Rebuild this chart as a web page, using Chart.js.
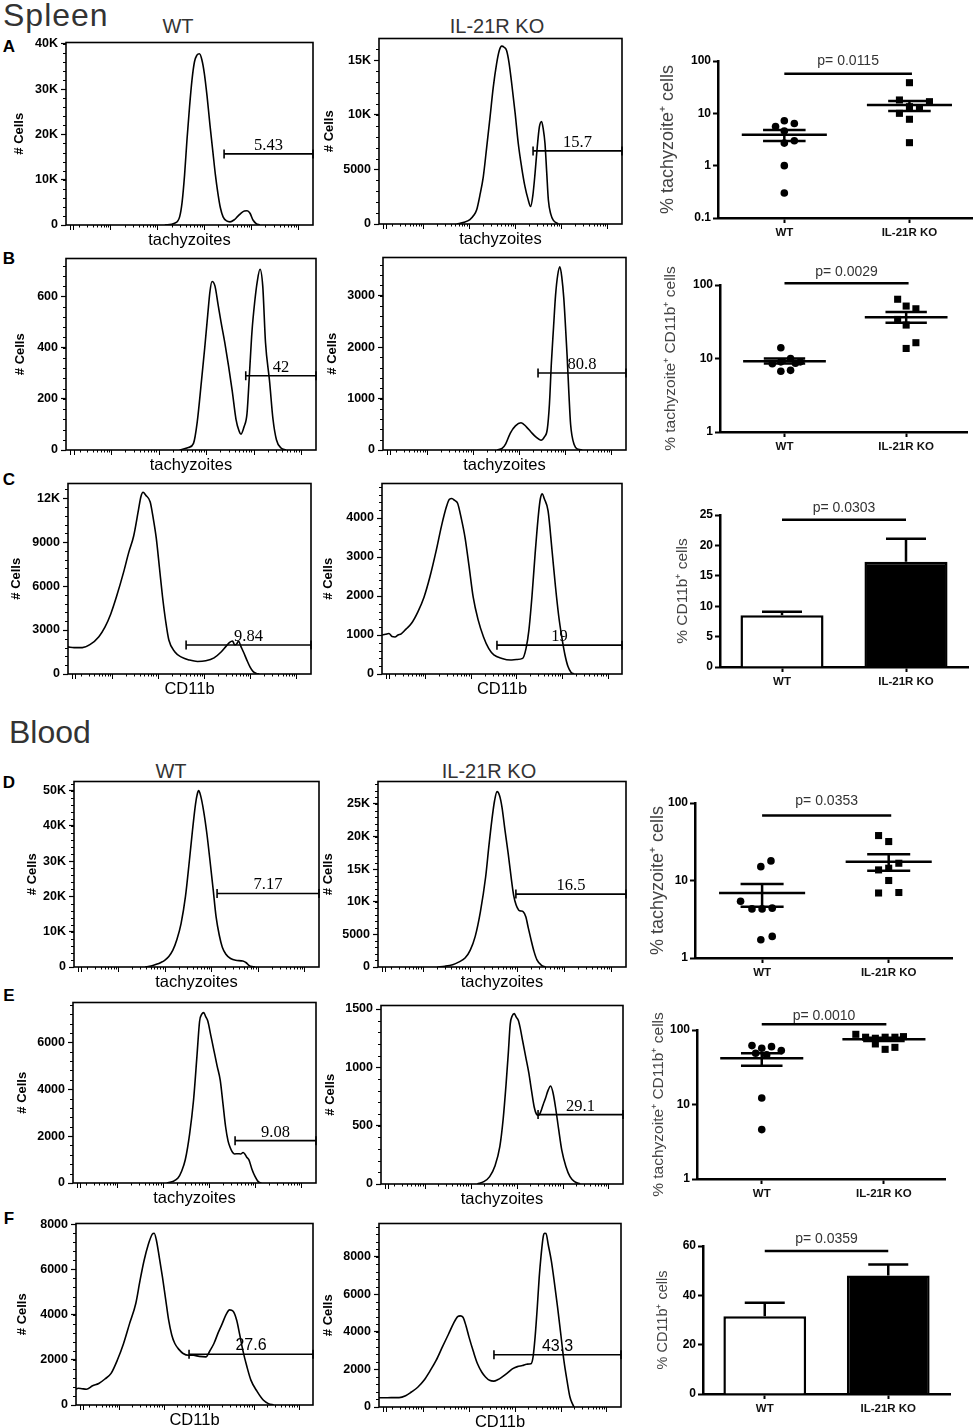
<!DOCTYPE html>
<html>
<head>
<meta charset="utf-8">
<title>Tachyzoite burden, WT vs IL-21R KO</title>
<script src="https://cdn.jsdelivr.net/npm/chart.js@4.4.1/dist/chart.umd.min.js"></script>
<style>
  body { margin: 0; background: #fff; }
  #fig { position: relative; width: 976px; height: 1428px; overflow: hidden; font-family: "Liberation Sans", Arial, sans-serif; }
  #fig canvas { position: absolute; }
  .lbl { position: absolute; white-space: nowrap; line-height: 1; color: #333; }
</style>
</head>
<body>
<div id="fig"></div>
<script>
const groups = ['WT', 'IL-21R KO'];
const histMarkers = ['tachyzoites', 'tachyzoites', 'tachyzoites', 'tachyzoites', 'CD11b', 'CD11b',
                     'tachyzoites', 'tachyzoites', 'tachyzoites', 'tachyzoites', 'CD11b', 'CD11b'];

// FlowJo histograms: x = display channel (0-1000 across the log axis), y = # cells
const aWtCh = [400, 440, 460, 470, 480, 490, 500, 510, 520, 530, 540, 550, 560, 571, 583, 595, 605, 615, 625, 636, 650, 664, 680, 695, 710, 722, 733, 745, 757, 770, 785];
const aWtCells = [0, 400, 1800, 5000, 11000, 19000, 26000, 32000, 36000, 37500, 37800, 36500, 33500, 28500, 22000, 16000, 11000, 7000, 3800, 1800, 900, 700, 1100, 1900, 2700, 3100, 3150, 2600, 1100, 300, 0];
const aKoCh = [320, 350, 374, 390, 402, 415, 429, 443, 457, 470, 484, 495, 505, 515, 525, 535, 546, 560, 573, 587, 601, 613, 624, 633, 642, 651, 660, 669, 676, 683, 690, 697, 707, 717, 738];
const aKoCells = [0, 150, 400, 800, 1300, 2600, 4300, 7000, 9800, 12500, 14700, 15900, 16300, 16200, 15900, 14800, 12900, 10200, 7400, 5200, 3400, 2300, 1600, 2600, 4600, 7000, 8900, 9400, 8700, 7400, 4800, 2200, 900, 350, 0];
const bWtCh = [455, 490, 510, 525, 542, 555, 567, 576, 584, 596, 608, 620, 635, 650, 665, 680, 692, 700, 712, 724, 734, 744, 755, 765, 776, 787, 798, 814, 828, 842, 860, 880];
const bWtCells = [0, 10, 26, 110, 271, 400, 529, 620, 658, 640, 570, 500, 420, 330, 230, 120, 75, 62, 90, 142, 300, 464, 580, 658, 706, 640, 420, 271, 120, 39, 8, 0];
const bKoCh = [470, 490, 505, 524, 545, 568, 590, 609, 630, 650, 665, 676, 685, 693, 702, 710, 719, 728, 736, 744, 751, 758, 765, 772, 787, 803, 820];
const bKoCells = [0, 30, 120, 330, 470, 530, 450, 350, 250, 190, 260, 400, 900, 1700, 2400, 3000, 3400, 3560, 3350, 2950, 2400, 1800, 1100, 500, 100, 15, 0];
const cWtCh = [0, 25, 59, 90, 127, 152, 176, 200, 228, 250, 270, 290, 300, 309, 320, 338, 350, 363, 376, 389, 402, 415, 440, 467, 500, 533, 567, 601, 630, 651, 665, 677, 686, 694, 702, 711, 722, 736, 750, 762, 775, 787];
const cWtCells = [1850, 1800, 1800, 2000, 2550, 3200, 4100, 5300, 6900, 8300, 9400, 11200, 12100, 12400, 12200, 11750, 10700, 9300, 7300, 5270, 3600, 2320, 1500, 1150, 950, 850, 900, 1100, 1500, 1900, 2150, 2250, 2000, 2050, 2250, 1900, 1500, 950, 450, 160, 40, 0];
const cKoCh = [0, 15, 29, 42, 54, 67, 80, 100, 123, 150, 175, 200, 226, 248, 269, 281, 291, 303, 315, 330, 346, 362, 380, 400, 423, 445, 466, 500, 535, 560, 586, 600, 612, 625, 638, 652, 660, 668, 676, 692, 708, 723, 736, 749, 762, 775, 788, 800];
const cKoCells = [1000, 1020, 1040, 960, 950, 1000, 1030, 1150, 1300, 1600, 1970, 2500, 3170, 3800, 4300, 4480, 4500, 4450, 4380, 4000, 3500, 2800, 1970, 1400, 950, 650, 490, 400, 360, 370, 400, 650, 1120, 2000, 3080, 4100, 4500, 4620, 4500, 4180, 3200, 2230, 1500, 950, 500, 190, 40, 0];
const dWtCh = [290, 315, 336, 355, 370, 387, 403, 420, 437, 455, 471, 484, 496, 503, 509, 516, 529, 542, 555, 568, 580, 593, 605, 620, 639, 660, 689, 703, 714, 727, 739];
const dWtCells = [0, 300, 750, 1300, 1900, 3000, 4700, 7800, 12300, 20000, 30200, 39000, 46200, 49000, 50000, 48800, 44300, 38000, 30200, 22000, 14200, 9000, 5700, 3600, 2400, 1900, 1700, 1200, 470, 100, 0];
const dKoCh = [240, 270, 301, 325, 351, 372, 392, 413, 434, 447, 459, 470, 480, 490, 500, 512, 525, 536, 547, 557, 567, 575, 585, 596, 606, 617, 629, 641, 658, 675];
const dKoCells = [0, 120, 360, 750, 1370, 2600, 4700, 8500, 13800, 18500, 22500, 25500, 26900, 26300, 24500, 21000, 17400, 14000, 11000, 9500, 8750, 8600, 8500, 7700, 6000, 4200, 2400, 1100, 300, 0];
const eWtCh = [386, 410, 432, 447, 462, 480, 496, 510, 521, 530, 538, 546, 555, 567, 580, 593, 606, 617, 628, 638, 648, 657, 665, 678, 690, 700, 707, 715, 724, 736, 749, 762, 775];
const eWtCells = [0, 60, 210, 500, 990, 2100, 3530, 5400, 6900, 7200, 7270, 7100, 6900, 6300, 5650, 5000, 4380, 3400, 2400, 1800, 1480, 1300, 1240, 1250, 1240, 1300, 1240, 1100, 990, 600, 280, 60, 0];
const eKoCh = [398, 425, 449, 470, 491, 505, 517, 526, 534, 542, 551, 559, 568, 576, 585, 598, 611, 622, 633, 642, 650, 656, 662, 670, 679, 690, 701, 711, 721, 734, 747, 764, 781, 800, 823];
const eKoCells = [0, 20, 63, 150, 320, 560, 860, 1120, 1370, 1440, 1460, 1430, 1400, 1330, 1230, 1090, 950, 800, 660, 600, 590, 600, 630, 680, 730, 800, 840, 780, 660, 470, 290, 150, 63, 20, 0];
const fWtCh = [0, 9, 25, 44, 70, 96, 122, 148, 175, 200, 226, 252, 270, 287, 305, 322, 330, 339, 352, 365, 378, 391, 404, 417, 435, 452, 475, 495, 520, 548, 565, 582, 600, 617, 633, 648, 663, 678, 691, 704, 721, 738, 764, 790, 812, 834];
const fWtCells = [700, 740, 720, 700, 850, 950, 1150, 1400, 2000, 2700, 3600, 4480, 5500, 6380, 7100, 7560, 7600, 7300, 6500, 5650, 4700, 3750, 3100, 2720, 2450, 2280, 2200, 2200, 2150, 2130, 2400, 2720, 3200, 3600, 4000, 4210, 4150, 3750, 3100, 2420, 1700, 1100, 600, 220, 60, 0];
const fKoCh = [0, 20, 50, 83, 110, 134, 160, 186, 210, 236, 262, 288, 308, 325, 336, 347, 360, 372, 390, 407, 425, 440, 457, 474, 490, 509, 530, 551, 572, 593, 610, 628, 637, 645, 654, 662, 670, 679, 685, 690, 700, 712, 725, 738, 751, 764, 777, 789, 800, 806];
const fKoCells = [500, 490, 500, 500, 600, 800, 1050, 1420, 1900, 2480, 3200, 3900, 4450, 4810, 4850, 4780, 4300, 3720, 2950, 2300, 1850, 1600, 1420, 1380, 1450, 1600, 1800, 2030, 2150, 2210, 2280, 2300, 2700, 3720, 5300, 6900, 8100, 9100, 9250, 9240, 8600, 7790, 6600, 5300, 3900, 2480, 1400, 530, 150, 0];

// gates (start channel, level in cells, % shown) and y ranges, order: A WT, A KO, B WT ... F KO
const gateFrom = [640, 634, 719, 638, 486, 479, 584, 556, 667, 649, 477, 475];
const gateLevel = [15700, 6700, 290, 1497, 1977, 740, 20850, 11180, 1807, 595, 2245, 2779];
const gateText = ['5.43', '15.7', '42', '80.8', '9.84', '19', '7.17', '16.5', '9.08', '29.1', '27.6', '43.3'];
const histYMax = [40300, 17000, 748, 3740, 13000, 4885, 52600, 28450, 7700, 1530, 8030, 9770];
const histYStep = [10000, 5000, 200, 1000, 3000, 1000, 10000, 5000, 2000, 500, 2000, 2000];

// FlowJo log axis marks (channel units)
const zeroMarks = [15, 30];
const decadeMarks = [180, 370, 560, 750, 940];

// dot plots: % per mouse, x = group position with jitter
const aWtPct = [7.2, 6.4, 5.6, 4.6, 3.0, 2.7, 1.0, 0.3];
const aWtPos = [1, 1.08, 0.93, 1, 1.08, 1, 1, 1];
const aKoPct = [38.5, 18, 16.7, 13.4, 12.8, 10, 7.7, 2.75];
const aKoPos = [2, 1.92, 2.16, 2, 2.08, 1.92, 2, 2];
const aMean = [3.9, 14.4], aSemLo = [2.96, 11.1], aSemHi = [4.8, 17.2];

const bWtPct = [14.0, 8.5, 9.0, 10.0, 9.0, 8.6, 6.7, 6.9];
const bWtPos = [0.97, 0.9, 0.97, 1.05, 1.13, 1.09, 0.97, 1.05];
const bKoPct = [64, 51.7, 47.5, 34, 28.5, 16.4, 13.7];
const bKoPos = [1.93, 2.0, 2.08, 1.93, 2.0, 2.08, 2.0];
const bMean = [9.2, 36.3], bSemLo = [8.55, 30.6], bSemHi = [10, 43];

const dWtPct = [17.9, 15.1, 5.4, 4.3, 4.3, 4.4, 1.9, 1.72];
const dWtPos = [1.07, 0.99, 0.83, 0.92, 1.0, 1.08, 1.08, 0.99];
const dKoPct = [38, 31.8, 16.7, 13.7, 14.4, 10, 6.9, 7.0];
const dKoPos = [1.92, 2.0, 2.08, 1.92, 2.0, 2.0, 1.92, 2.08];
const dMean = [6.9, 17.5], dSemLo = [4.6, 13.4], dSemHi = [9.0, 21.8];

const eWtPct = [61.7, 56.8, 59.8, 52.9, 48.7, 46.3, 12.2, 4.6];
const eWtPos = [0.92, 1.0, 1.08, 1.16, 0.95, 1.04, 1.0, 1.0];
const eKoPct = [87.5, 80, 77.5, 80, 80, 81.5, 65, 55, 58.5];
const eKoPos = [1.77, 1.85, 1.93, 2.01, 2.09, 2.16, 1.93, 2.01, 2.09];
const eMean = [41.7, 75], eSemLo = [33.2, 71], eSemHi = [48.7, 79];

// bar panels: mean and top of error bar
const cMean = [8.5, 17.3], cErrTop = [9.1, 21.1];
const fMean = [31.5, 48], fErrTop = [37, 52.5];

const logTicksA = [0.1, 1, 10, 100];
const logTicks = [1, 10, 100];
const pText = ['p= 0.0115', 'p= 0.0029', 'p= 0.0303', 'p= 0.0353', 'p= 0.0010', 'p= 0.0359'];
const pLevel = [57, 106, 24.2, 69, 119, 58];
const dotTitles = ['% tachyzoite\u207A cells', '% tachyzoite\u207A CD11b\u207A cells', '% CD11b\u207A cells',
                   '% tachyzoite\u207A cells', '% tachyzoite\u207A CD11b\u207A cells', '% CD11b\u207A cells'];

// ---------- layout (px in the 976x1428 page) ----------
const histBox = [[66, 42, 313, 225], [379, 38, 622, 224], [66, 258, 316, 450], [383, 257, 626, 450],
                 [68, 483, 311, 674], [382, 483, 622, 674], [74, 781, 319, 967], [378, 781, 626, 967],
                 [73, 1002, 316, 1183], [381, 1005, 623, 1184], [76, 1223, 313, 1405], [379, 1223, 621, 1407]];
const histTitleX = [20, 330, 21, 333, 17, 329, 33, 329, 23, 331, 23, 329];
const dotBox = [[718, 61, 972, 218], [720, 285, 967, 432], [720, 515, 968, 667],
                [695, 803, 952, 958], [697, 1030, 945, 1179], [703, 1246, 950, 1394]];
const dotTitleX = [668, 670, 682, 658, 658, 663];
const dotTitleSize = [18, 15.5, 15.5, 18, 15.5, 14.5];
const pGap = [13, 11, 12, 14, 8, 12];
const MEAN_W = 0.34, SEM_W = 0.17;

const SANS = '"Liberation Sans", Arial, sans-serif';
const SERIF = '"Liberation Serif", "Times New Roman", serif';
Chart.defaults.font.family = SANS;
Chart.defaults.color = '#000';

const fig = document.getElementById('fig');

function place(w, h, x, y) {
  const c = document.createElement('canvas');
  c.width = Math.round(w);
  c.height = Math.round(h);
  c.style.left = Math.round(x) + 'px';
  c.style.top = Math.round(y) + 'px';
  fig.appendChild(c);
  return c;
}

function text(str, x, y, css, centred = true) {
  const d = document.createElement('div');
  d.className = 'lbl';
  d.textContent = str;
  d.style.left = x + 'px';
  d.style.top = y + 'px';
  d.style.transform = centred ? 'translate(-50%, -50%)' : 'translate(0, -50%)';
  Object.assign(d.style, css);
  fig.appendChild(d);
}

// even ticks from 0 up to max (Chart.js would otherwise stretch the step to hit max)
function stepTicks(max, step) {
  return s => {
    const t = [];
    for (let v = 0; v <= max + 1e-9; v += step) t.push({ value: v });
    s.ticks = t;
  };
}

// ---------- plugins ----------
const boxFrame = {
  id: 'boxFrame',
  afterDatasetsDraw(chart) {
    const { ctx, chartArea: a } = chart;
    ctx.save();
    ctx.strokeStyle = '#000';
    ctx.lineWidth = 1.6;
    ctx.strokeRect(a.left, a.top, a.right - a.left, a.bottom - a.top);
    ctx.restore();
  }
};

const flowAxis = {
  id: 'flowAxis',
  afterDraw(chart, args, o) {
    const { ctx, chartArea: a, scales: { x, y } } = chart;
    ctx.save();
    ctx.strokeStyle = '#000';
    ctx.lineWidth = 1;
    ctx.beginPath();
    const minor = o.step / 5;
    for (let v = minor; v < y.max; v += minor) {
      const py = Math.round(y.getPixelForValue(v)) + 0.5;
      ctx.moveTo(a.left, py); ctx.lineTo(a.left - 3, py);
    }
    const mark = (v, len) => {
      const px = Math.round(x.getPixelForValue(v)) + 0.5;
      ctx.moveTo(px, a.bottom); ctx.lineTo(px, a.bottom + len);
    };
    zeroMarks.forEach(v => mark(v, 5));
    let prev = 0;
    decadeMarks.forEach(d => {
      for (let k = 2; k < 10; k++) mark(prev + Math.log10(k) * (d - prev), 2.5);
      mark(d, 5);
      prev = d;
    });
    ctx.stroke();
    ctx.restore();
  }
};

const gateLabel = {
  id: 'gateLabel',
  afterDraw(chart, args, o) {
    const { ctx, scales: { x, y } } = chart;
    ctx.save();
    ctx.font = o.font;
    ctx.fillStyle = '#000';
    ctx.textAlign = 'center';
    ctx.textBaseline = 'alphabetic';
    ctx.fillText(o.text, x.getPixelForValue((o.from + 1000) / 2), y.getPixelForValue(o.level) - 4);
    ctx.restore();
  }
};

const pValue = {
  id: 'pValue',
  afterDraw(chart, args, o) {
    const { ctx, scales: { x, y } } = chart;
    ctx.save();
    ctx.font = '14px ' + SANS;
    ctx.fillStyle = '#333';
    ctx.textAlign = 'center';
    ctx.textBaseline = 'middle';
    const px = (x.getPixelForValue(o.from) + x.getPixelForValue(o.to)) / 2;
    ctx.fillText(o.text, px, y.getPixelForValue(o.level) - o.gap);
    ctx.restore();
  }
};

const errorBars = {
  id: 'errorBars',
  afterDatasetsDraw(chart, args, o) {
    const { ctx, scales: { x, y } } = chart;
    ctx.save();
    ctx.strokeStyle = '#000';
    ctx.lineWidth = 2.5;
    ctx.beginPath();
    o.top.forEach((v, i) => {
      const px = x.getPixelForValue(i);
      const y0 = y.getPixelForValue(o.mean[i]);
      const y1 = y.getPixelForValue(v);
      ctx.moveTo(px, y0); ctx.lineTo(px, y1);
      ctx.moveTo(px - 20, y1); ctx.lineTo(px + 20, y1);
    });
    ctx.stroke();
    ctx.restore();
  }
};

// ---------- histograms ----------
const histCh = [aWtCh, aKoCh, bWtCh, bKoCh, cWtCh, cKoCh, dWtCh, dKoCh, eWtCh, eKoCh, fWtCh, fKoCh];
const histCells = [aWtCells, aKoCells, bWtCells, bKoCells, cWtCells, cKoCells, dWtCells, dKoCells, eWtCells, eKoCells, fWtCells, fKoCells];

function drawHistogram(i) {
  const [l, t, r, b] = histBox[i];
  const left = Math.round(histTitleX[i] - 8);
  const yw = l - left, pad = 10, xh = 25;
  const cv = place(r - left + pad, b - t + pad + xh, left, t - pad);
  new Chart(cv, {
    type: 'line',
    data: {
      datasets: [
        {
          data: histCh[i].map((c, k) => ({ x: c, y: histCells[i][k] })),
          borderColor: '#000', borderWidth: 1.6, pointRadius: 0, cubicInterpolationMode: 'monotone'
        },
        {
          data: [{ x: gateFrom[i], y: gateLevel[i] }, { x: 1000, y: gateLevel[i] }],
          borderColor: '#000', borderWidth: 1.6, pointStyle: 'line', rotation: 90, pointRadius: 4.5,
          pointBorderColor: '#000', pointBorderWidth: 1.6, clip: false
        }
      ]
    },
    options: {
      responsive: false, animation: false, events: [],
      layout: { padding: { top: pad, right: pad, left: 0, bottom: 0 } },
      plugins: {
        legend: { display: false }, tooltip: { enabled: false },
        flowAxis: { step: histYStep[i] },
        gateLabel: { text: gateText[i], from: gateFrom[i], level: gateLevel[i], font: (i >= 10 ? '16px ' + SANS : '16.5px ' + SERIF) }
      },
      scales: {
        x: {
          type: 'linear', min: 0, max: 1000,
          afterFit: s => { s.height = xh; },
          ticks: { display: false }, grid: { display: false }, border: { display: false },
          title: { display: true, text: histMarkers[i], color: '#000', padding: 0, font: { size: 16.5 } }
        },
        y: {
          min: 0, max: histYMax[i],
          afterFit: s => { s.width = yw; },
          afterBuildTicks: stepTicks(histYMax[i], histYStep[i]),
          ticks: {
            padding: 3, color: '#000',
            font: { size: 12.5, weight: 'bold' },
            callback: v => v >= 10000 ? Math.round(v / 1000) + 'K' : String(Math.round(v))
          },
          grid: { drawOnChartArea: false, tickLength: 5, tickWidth: 1.2, tickColor: '#000' },
          border: { display: false },
          title: { display: true, text: '# Cells', color: '#000', padding: 0, font: { size: 13, weight: 'bold' } }
        }
      }
    },
    plugins: [boxFrame, flowAxis, gateLabel]
  });
}

// ---------- dot plots and bars ----------
function frameFor(i) {
  const [l, t, r, b] = dotBox[i];
  const left = Math.round(dotTitleX[i] - dotTitleSize[i] * 0.6);
  const top = 26, xh = 26, rp = 8;
  return { cv: place(r - left + rp, b - t + top + xh, left, t - top), yw: l - left, top, xh, rp };
}

function axisY(i, yw, extra) {
  return Object.assign({
    afterFit: s => { s.width = yw; },
    ticks: { padding: 2, color: '#000', font: { size: 12, weight: 'bold' } },
    grid: { drawOnChartArea: false, tickLength: 5, tickWidth: 2, tickColor: '#000' },
    border: { display: true, width: 2.5, color: '#000' },
    title: { display: true, text: dotTitles[i], color: '#444', padding: 0, font: { size: dotTitleSize[i] } }
  }, extra);
}

function drawDots(i, wt, wtPos, ko, koPos, mean, lo, hi, range, decades) {
  const { cv, yw, top, xh, rp } = frameFor(i);
  const seg = (x0, x1, y0, y1) => ({
    data: [{ x: x0, y: y0 }, { x: x1, y: y1 }], showLine: true,
    borderColor: '#000', borderWidth: 2.5, pointRadius: 0
  });
  const sets = [];
  [0, 1].forEach(g => {
    const c = g + 1;
    sets.push(seg(c - MEAN_W, c + MEAN_W, mean[g], mean[g]));
    sets.push(seg(c - SEM_W, c + SEM_W, lo[g], lo[g]));
    sets.push(seg(c - SEM_W, c + SEM_W, hi[g], hi[g]));
    sets.push(seg(c, c, lo[g], hi[g]));
  });
  sets.push(Object.assign(seg(1, 2.02, pLevel[i], pLevel[i]), { clip: false }));
  sets.push({ data: wt.map((v, k) => ({ x: wtPos[k], y: v })), pointStyle: 'circle', pointRadius: 3.8, backgroundColor: '#000', borderColor: '#000', borderWidth: 0 });
  sets.push({ data: ko.map((v, k) => ({ x: koPos[k], y: v })), pointStyle: 'rect', pointRadius: 5, backgroundColor: '#000', borderColor: '#000', borderWidth: 0 });

  new Chart(cv, {
    type: 'scatter',
    data: { datasets: sets },
    options: {
      responsive: false, animation: false, events: [],
      layout: { padding: { top, right: rp, left: 0, bottom: 0 } },
      plugins: {
        legend: { display: false }, tooltip: { enabled: false },
        pValue: { text: pText[i], from: 1, to: 2.02, level: pLevel[i], gap: pGap[i] }
      },
      scales: {
        x: {
          type: 'linear', min: 0.47, max: 2.5,
          afterFit: s => { s.height = xh; },
          afterBuildTicks: s => { s.ticks = [{ value: 1 }, { value: 2 }]; },
          ticks: { callback: v => groups[v - 1], color: '#111', padding: 3, maxRotation: 0, autoSkip: false, font: { size: 11.5, weight: 'bold' } },
          grid: { drawOnChartArea: false, tickLength: 5, tickWidth: 2, tickColor: '#000' },
          border: { width: 2.5, color: '#000' }
        },
        y: axisY(i, yw, {
          type: 'logarithmic', min: range[0], max: range[1],
          afterBuildTicks: s => { s.ticks = decades.map(v => ({ value: v })); }
        })
      }
    },
    plugins: [pValue]
  });
}

function drawBars(i, mean, errTop, max, step) {
  const { cv, yw, top, xh, rp } = frameFor(i);
  const yax = axisY(i, yw, { min: 0, max, afterBuildTicks: stepTicks(max, step) });
  new Chart(cv, {
    type: 'bar',
    data: {
      labels: groups,
      datasets: [
        { data: mean, backgroundColor: ['#fff', '#000'], borderColor: '#000', borderWidth: 2.5, barPercentage: 0.67, categoryPercentage: 1 },
        { type: 'line', data: [pLevel[i], pLevel[i]], borderColor: '#000', borderWidth: 2.5, pointRadius: 0, clip: false }
      ]
    },
    options: {
      responsive: false, animation: false, events: [],
      layout: { padding: { top, right: rp, left: 0, bottom: 0 } },
      plugins: {
        legend: { display: false }, tooltip: { enabled: false },
        pValue: { text: pText[i], from: 0, to: 1, level: pLevel[i], gap: pGap[i] },
        errorBars: { mean, top: errTop }
      },
      scales: {
        x: {
          afterFit: s => { s.height = xh; },
          ticks: { color: '#111', padding: 3, maxRotation: 0, font: { size: 11.5, weight: 'bold' } },
          grid: { offset: false, drawOnChartArea: false, tickLength: 5, tickWidth: 2, tickColor: '#000' },
          border: { width: 2.5, color: '#000' }
        },
        y: yax
      }
    },
    plugins: [errorBars, pValue]
  });
}

// ---------- page text ----------
text('Spleen', 3, 15, { fontSize: '32px', letterSpacing: '1px' }, false);
text('Blood', 9, 732, { fontSize: '32px' }, false);
text('WT', 178, 26, { fontSize: '20px' });
text('IL-21R KO', 497, 26, { fontSize: '20px' });
text('WT', 171, 771, { fontSize: '20px' });
text('IL-21R KO', 489, 771, { fontSize: '20px' });
[['A', 46], ['B', 258], ['C', 479], ['D', 782], ['E', 995], ['F', 1218]].forEach(([s, y]) =>
  text(s, 9, y, { fontSize: '17px', fontWeight: 'bold', color: '#000' }));

// ---------- draw ----------
for (let i = 0; i < 12; i++) drawHistogram(i);
drawDots(0, aWtPct, aWtPos, aKoPct, aKoPos, aMean, aSemLo, aSemHi, [0.1, 100], logTicksA);
drawDots(1, bWtPct, bWtPos, bKoPct, bKoPos, bMean, bSemLo, bSemHi, [1, 100], logTicks);
drawBars(2, cMean, cErrTop, 25, 5);
drawDots(3, dWtPct, dWtPos, dKoPct, dKoPos, dMean, dSemLo, dSemHi, [1, 100], logTicks);
drawDots(4, eWtPct, eWtPos, eKoPct, eKoPos, eMean, eSemLo, eSemHi, [1, 100], logTicks);
drawBars(5, fMean, fErrTop, 60, 20);
</script>
</body>
</html>
